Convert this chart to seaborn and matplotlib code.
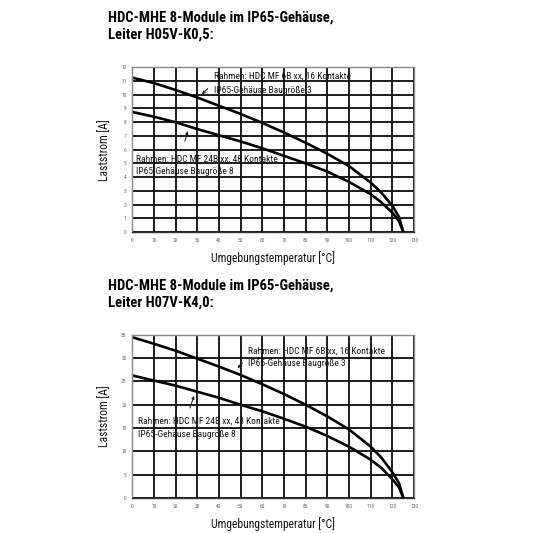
import numpy as np
import pandas as pd
import seaborn as sns
import matplotlib.pyplot as plt
from matplotlib.ticker import MultipleLocator

temp = [0, 10, 20, 30, 40, 50, 60, 70, 80, 90, 100, 110, 115, 120, 123, 125]

# H05V-K 0,5
k05_6b = [11.25, 10.85, 10.35, 9.8, 9.2, 8.6, 7.95, 7.25, 6.5, 5.7, 4.8, 3.6, 2.85, 1.9, 1.1, 0.0]
k05_24b = [8.75, 8.4, 8.0, 7.5, 7.05, 6.6, 6.1, 5.55, 5.0, 4.4, 3.65, 2.75, 2.15, 1.4, 0.8, 0.0]

# H07V-K 4,0
k40_6b = [34.5, 33.1, 31.6, 29.9, 28.2, 26.4, 24.4, 22.3, 20.0, 17.5, 14.7, 11.0, 8.6, 5.5, 3.2, 0.0]
k40_24b = [26.3, 25.2, 24.1, 22.8, 21.5, 20.0, 18.6, 17.0, 15.3, 13.3, 11.0, 8.2, 6.4, 4.0, 2.3, 0.0]

title_top = "HDC-MHE 8-Module im IP65-Gehäuse,\nLeiter H05V-K0,5:"
title_bot = "HDC-MHE 8-Module im IP65-Gehäuse,\nLeiter H07V-K4,0:"
lab_6b = ["Rahmen: HDC MF 6B xx, 16 Kontakte", "IP65-Gehäuse Baugröße 3"]
lab_24b = ["Rahmen: HDC MF 24B xx, 48 Kontakte", "IP65-Gehäuse Baugröße 8"]

sns.set_style("white")
plt.rcParams['font.family'] = ['Roboto Condensed', 'DejaVu Sans']

fig = plt.figure(figsize=(5.33, 5.33), dpi=100)


def panel(ax, s6, s24, ymax, ystep, t6, t24, a6, a24):
    df = pd.DataFrame({'T': temp * 2, 'I': s6 + s24,
                       'curve': ['6B'] * len(temp) + ['24B'] * len(temp)})
    sns.lineplot(data=df, x='T', y='I', units='curve', estimator=None,
                 color='black', lw=1.9, ax=ax)
    ax.set_xlim(0, 130)
    ax.set_ylim(0, ymax)
    ax.xaxis.set_major_locator(MultipleLocator(10))
    ax.xaxis.set_minor_locator(MultipleLocator(5))
    ax.yaxis.set_major_locator(MultipleLocator(ystep))
    ax.grid(True, which='major', color='#141414', lw=1.35)
    for sp in ax.spines.values():
        sp.set_color('#8a8a8a')
        sp.set_linewidth(1.0)
    ax.spines['bottom'].set_color('#333333')
    ax.tick_params(axis='both', which='major', labelsize=4, colors='#666666',
                   length=0, pad=4)
    ax.tick_params(axis='x', which='minor', length=2, width=0.8,
                   color='#333333', direction='inout')
    ax.set_ylabel('Laststrom [A]', fontsize=8.4, color='#141414', labelpad=7)
    ax.set_xlabel('Umgebungstemperatur [°C]', fontsize=8.4, color='#141414',
                  labelpad=6)
    for lines, pos in ((lab_6b, t6), (lab_24b, t24)):
        ax.text(pos[0], pos[1], lines[0], fontsize=6.8, color='#1a1a1a',
                va='center')
        ax.text(pos[0], pos[2], lines[1], fontsize=6.8, color='#1a1a1a',
                va='center')
    for tail, tip in (a6, a24):
        ax.annotate('', xy=tip, xytext=tail,
                    arrowprops=dict(arrowstyle='-|>', lw=0.7, color='#1a1a1a',
                                    mutation_scale=4, shrinkA=0, shrinkB=0))


ax1 = fig.add_axes([0.248, 0.5647, 0.529, 0.309])
panel(ax1, k05_6b, k05_24b, 12, 1,
      (37.7, 11.35, 10.33), (1.6, 5.31, 4.44),
      ((34.8, 10.45), (32.2, 10.04)), ((24.3, 6.6), (25.6, 7.35)))

ax2 = fig.add_axes([0.248, 0.0657, 0.529, 0.306])
panel(ax2, k40_6b, k40_24b, 35, 5,
      (53.4, 31.4, 28.8), (2.5, 16.5, 13.7),
      ((50.8, 29.0), (48.6, 27.85)), ((26.6, 19.3), (28.5, 21.9)))

fig.text(108 / 533, 1 - 26 / 533, title_top, fontsize=10.5, fontweight='bold',
         va='center', ha='left', linespacing=1.35, color='black')
fig.text(108 / 533, 1 - 294 / 533, title_bot, fontsize=10.5, fontweight='bold',
         va='center', ha='left', linespacing=1.35, color='black')

fig.savefig('out.png', dpi=100, facecolor='white')
